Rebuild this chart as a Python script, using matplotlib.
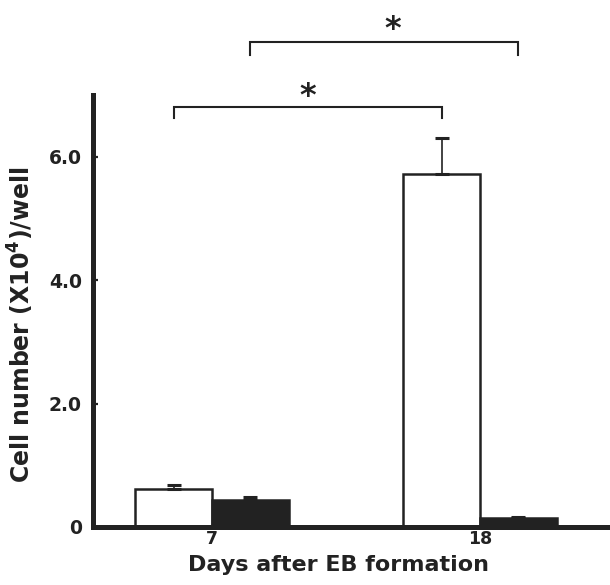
import matplotlib
matplotlib.use("Agg")
import matplotlib.pyplot as plt
import numpy as np

plt.rcParams['font.family'] = ['DejaVu Sans']
plt.rcParams['font.weight'] = 'bold'

# ---- data ----
days = ["7", "18"]
white_vals = [0.62, 5.72]
white_err = [0.06, 0.59]
black_vals = [0.44, 0.14]
black_err = [0.05, 0.03]
yticks = [0, 2, 4, 6]
ytick_labels = ["0", "2.0", "4.0", "6.0"]

ink = '#222222'
W, H = 610, 585
fig = plt.figure(figsize=(W / 100, H / 100), dpi=100)
ax = fig.add_axes([93 / W, 1 - 527 / H, 1 - 93 / W, 432 / H])

x = np.arange(len(days))
bw = 0.287
off = bw / 2
ekw = dict(ecolor=ink, elinewidth=1.2, capthick=2.2)
ax.bar(x - off, white_vals, bw, color='white', edgecolor=ink, linewidth=1.8,
       yerr=[[0, 0], white_err], capsize=5.2, error_kw=ekw, zorder=2)
ax.bar(x + off, black_vals, bw, color=ink, edgecolor=ink, linewidth=1.8,
       yerr=[[0, 0], black_err], capsize=5.2, error_kw=ekw, zorder=2)

ax.set_xlim(-0.444, 1.485)
ax.set_ylim(0, 7)
for s in ['top', 'right']:
    ax.spines[s].set_visible(False)
for s in ['left', 'bottom']:
    ax.spines[s].set_linewidth(3.6)
    ax.spines[s].set_color(ink)
    ax.spines[s].set_zorder(3)

ax.set_xticks(x)
ax.set_xticklabels(days, fontsize=12.5, fontweight='bold', color=ink)
ax.tick_params(axis='x', length=0, pad=2)
ax.set_yticks(yticks)
ax.set_yticklabels(ytick_labels, fontsize=13.5, fontweight='bold', color=ink)
ax.tick_params(axis='y', direction='in', length=3.8, width=1.6, color=ink, pad=8)

# significance brackets: white 7 vs white 18, black 7 vs black 18
def bracket(x1, x2, y, leg, star_x, star_y):
    ax.plot([x1, x1, x2, x2], [y - leg, y, y, y - leg], color=ink, lw=1.5,
            clip_on=False, solid_joinstyle='miter')
    ax.text(star_x, star_y, '*', ha='center', va='baseline', fontsize=23,
            fontweight='heavy', color=ink, clip_on=False)

bracket(x[0] - off, x[1] - off, 6.81, 0.18, (x[0] - off + x[1] - off) / 2, 6.84)
bracket(x[0] + off, x[1] + off, 7.86, 0.21, 0.675, 7.92)

fig.text(338 / W, 1 - 571 / H, 'Days after EB formation', ha='center',
         va='baseline', fontsize=16, fontweight='bold', color=ink)
fig.text(21 / W, 1 - 325 / H, 'Cell number (X10$^{\\mathbf{4}}$)/well',
         rotation=90, ha='center', va='center', fontsize=17,
         fontweight='bold', color=ink)

fig.savefig('out.png', dpi=100)
